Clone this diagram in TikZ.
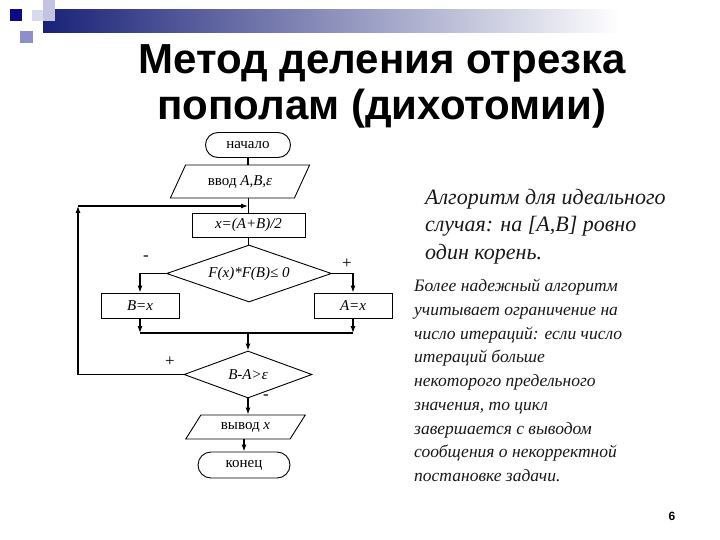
\documentclass[tikz,border=0pt]{standalone}
\usepackage{fontspec}
\setmainfont{Liberation Serif}
\newfontfamily\headfont{Liberation Sans}
\usepackage{tikz}
\usetikzlibrary{shapes.geometric, shapes.misc, arrows.meta, positioning}
\definecolor{bandnavy}{HTML}{1A2277}
\definecolor{darksq}{HTML}{0B0B85}
\definecolor{midsq}{HTML}{8E8EC8}
\definecolor{lightsq}{HTML}{C4C4E2}
\definecolor{palesq}{HTML}{DADAEE}
\tikzset{
  blk/.style={draw=black, line width=0.9pt, align=center, font=\fontsize{15}{18}\selectfont, inner sep=0pt},
  term/.style={blk, rounded rectangle, minimum height=25pt},
  proc/.style={blk, rectangle, minimum height=25pt},
  iobox/.style={blk, trapezium, trapezium stretches=true, trapezium left angle=#1, trapezium right angle=180-#1},
  cond/.style={blk, diamond},
  sign/.style={font=\fontsize{17}{18}\selectfont, inner sep=0pt},
  note/.style={align=left, anchor=north west, inner sep=0pt, text=black!90},
  arr/.style={-{Latex[length=7pt,width=5pt]}, line width=1.1pt},
  ln/.style={line width=1.1pt},
}

\begin{document}
\begin{tikzpicture}[x=1pt, y=-1pt]
  \useasboundingbox[fill=white] (0,0) rectangle (720,540);
  % slide decoration
  \shade[left color=bandnavy, right color=white] (43,10) rectangle (620,33);
  \fill[palesq] (32,10) rectangle (43,21);
  \fill[lightsq] (43,0) rectangle (55,21);
  \fill[darksq] (10,9) rectangle (22,21);
  \fill[midsq] (20,31) rectangle (33,43);

  \node[font=\headfont\bfseries\fontsize{42}{46}\selectfont, align=center] (ttl) at (382,86)
    {Метод деления отрезка\\пополам (дихотомии)};

  % flowchart
  \node[term, minimum width=85pt] (nach) at (248,145) {начало};
  \node[iobox=55, minimum width=140pt, minimum height=33pt] (inp) at (240,181.5) {ввод \textit{A,B,ε}};
  \node[proc, minimum width=113pt, minimum height=24pt] (calc) at (248.5,225) {\textit{x=(A+B)/2}};
  \node[cond, aspect=2.9, minimum width=165pt, minimum height=57pt] (dg1) at (249,273.5) {\textit{F(x)*F(B)≤ 0}};
  \node[proc, minimum width=78pt] (bx) at (140,305.5) {\textit{B=x}};
  \node[proc, minimum width=78pt] (ax) at (353,305.5) {\textit{A=x}};
  \coordinate (mg) at (248,333);
  \node[cond, aspect=2.7, minimum width=128pt, minimum height=47pt] (dg2) at (248,374.5) {\textit{B-A>ε}};
  \node[iobox=50, minimum width=120pt, minimum height=24pt] (outp) at (245.5,427) {вывод \textit{x}};
  \node[term, minimum width=92pt, minimum height=26pt] (fin) at (244,465) {конец};

  \node[sign] (m1) at (146,258) {-};
  \node[sign] (p1) at (347,264) {+};
  \node[sign] (p2) at (170,362) {+};
  \node[sign] (m2) at (266,397) {-};

  \coordinate (lpt) at (78,206);
  \coordinate (jn) at (248,206);

  \draw[ln] (nach.south) -- (nach.south |- inp.north);
  \draw[ln] (inp.south -| calc.north) -- (calc.north);
  \draw[arr] (lpt) -- (jn);
  \draw[ln] (calc.south) -- (calc.south |- dg1.north);
  \draw[arr] (dg1.west) -| (bx.north);
  \draw[arr] (dg1.east) -| (ax.north);
  \draw[arr] (bx.south) -- (bx.south |- mg);
  \draw[arr] (ax.south) -- (ax.south |- mg);
  \draw[ln] (bx.south |- mg) -- (ax.south |- mg);
  \draw[arr] (mg) -- (dg2.north);
  \draw[arr] (dg2.west) -- (dg2.west -| lpt) -- (lpt);
  \draw[arr] (dg2.south) -- (dg2.south |- outp.north);
  \draw[arr] (outp.south -| fin.north) -- (fin.north);

  % notes on the right
  \node[note, font=\itshape\fontsize{22}{27.5}\selectfont] (n1) at (425,189)
    {Алгоритм для идеального\\случая: на [A,B] ровно\\один корень.};
  \node[note, font=\itshape\fontsize{17.5}{23.75}\selectfont] (n2) at (414,279)
    {Более надежный алгоритм\\учитывает ограничение на\\число итераций: если число\\итераций больше\\некоторого предельного\\значения, то цикл\\завершается с выводом\\сообщения о некорректной\\постановке задачи.};

  \node[font=\headfont\bfseries\fontsize{12}{14}\selectfont] (pg) at (672,516) {6};
\end{tikzpicture}
\end{document}
